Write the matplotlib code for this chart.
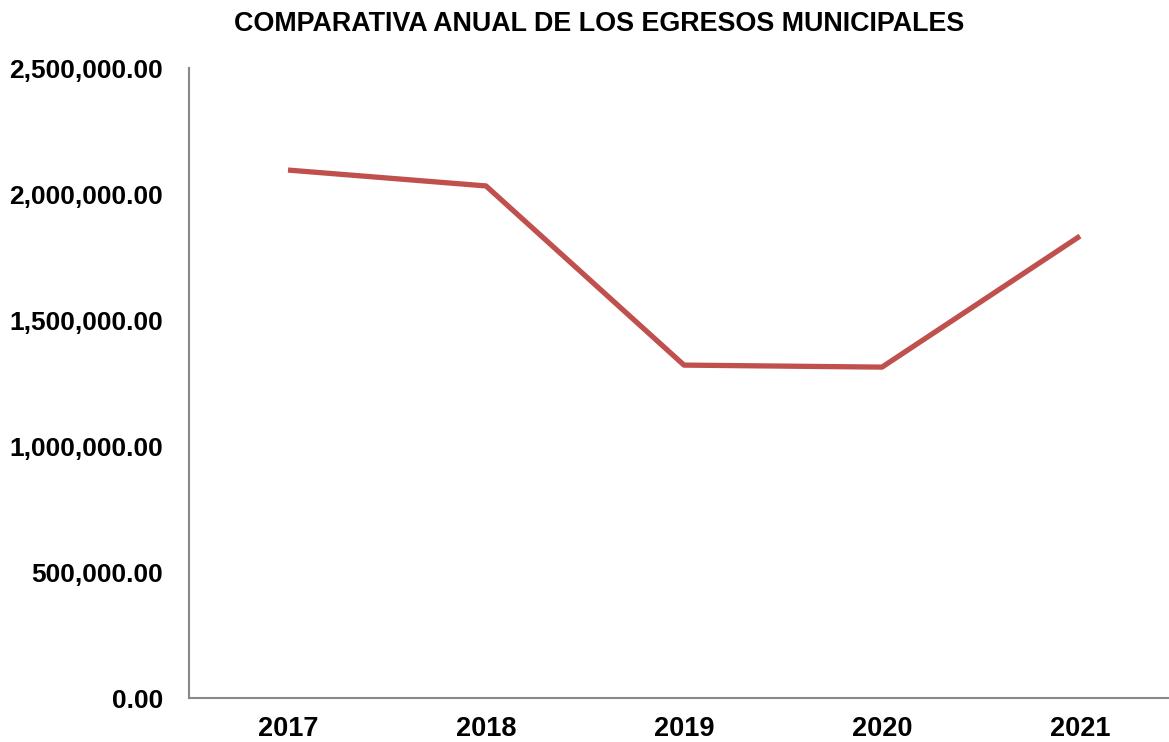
import matplotlib.pyplot as plt
from matplotlib.ticker import FuncFormatter

plt.rcParams['font.family'] = ['Liberation Sans', 'DejaVu Sans']

anios = ['2017', '2018', '2019', '2020', '2021']
egresos = [2095000, 2032000, 1321000, 1313000, 1833000]

fig = plt.figure(figsize=(11.69, 7.42), dpi=100)
ax = fig.add_axes([189/1169, 44/742, 990/1169, 630/742])

ax.plot(range(len(anios)), egresos, color='#C0504D', linewidth=3.8,
        solid_capstyle='butt', solid_joinstyle='round')

ax.set_xlim(-0.5, 4.5)
ax.set_ylim(0, 2500000)
ax.set_xticks(range(len(anios)))
ax.set_xticklabels(anios)
ax.set_yticks([0, 500000, 1000000, 1500000, 2000000, 2500000])
ax.yaxis.set_major_formatter(FuncFormatter(lambda v, p: f'{v:,.2f}'))

for lbl in ax.get_yticklabels():
    lbl.set_fontweight('bold')
    lbl.set_fontsize(19)
for lbl in ax.get_xticklabels():
    lbl.set_fontweight('bold')
    lbl.set_fontsize(19.5)
ax.tick_params(length=0, pad=18.5, axis='y')
ax.tick_params(length=0, pad=13, axis='x')

for s in ['top', 'right']:
    ax.spines[s].set_visible(False)
for s in ['left', 'bottom']:
    ax.spines[s].set_color('#898989')
    ax.spines[s].set_linewidth(1.5)

fig.text(0.5125, 0.968, 'COMPARATIVA ANUAL DE LOS EGRESOS MUNICIPALES',
         ha='center', va='center', fontsize=19.4, fontweight='bold')

fig.savefig('out.png', dpi=100)
